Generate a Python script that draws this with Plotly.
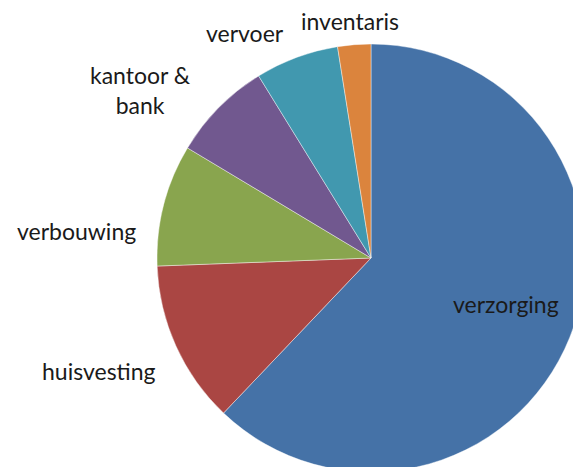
import plotly.graph_objects as go

categories = ["verzorging", "huisvesting", "verbouwing", "kantoor &<br>bank", "vervoer", "inventaris"]
values = [62.1, 12.3, 9.2, 7.6, 6.3, 2.5]
colors = ["#4572A7", "#AA4643", "#89A54E", "#71588F", "#4198AF", "#DB843D"]

W, H = 590, 480
OFF = 8  # page body margin
# label centres in screen pixels (x, y from top)
label_pos = [(506, 304), (99, 371), (76, 231), (140, 90), (245, 33), (350, 21)]

# pie: centre (371, 258) screen, radius 214
cx, cy, r = 371 - OFF, 258 - OFF, 214
fig = go.Figure(go.Pie(
    labels=categories,
    values=values,
    sort=False,
    direction="clockwise",
    rotation=0,
    marker=dict(colors=colors, line=dict(color="rgba(255,255,255,0.6)", width=0.7)),
    textinfo="none",
    hoverinfo="label+value",
    domain=dict(x=[(cx - r) / W, (cx + r) / W], y=[(H - (cy + r)) / H, (H - (cy - r)) / H]),
    showlegend=False,
))

for lab, (px, py) in zip(categories, label_pos):
    fig.add_annotation(
        x=(px - OFF) / W, y=1 - (py - OFF) / H, xref="paper", yref="paper",
        text=lab, showarrow=False, xanchor="center", yanchor="middle",
        font=dict(family="Lato, Carlito, sans-serif", size=23, color="#1a1a1a"),
    )

fig.update_layout(
    width=W, height=H,
    margin=dict(l=0, r=0, t=0, b=0),
    paper_bgcolor="white",
    plot_bgcolor="white",
)

fig.write_html("out.html")
